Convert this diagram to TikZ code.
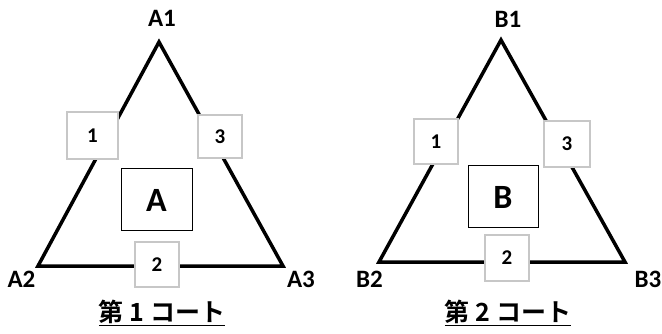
\documentclass[tikz,border=0pt]{standalone}
\usepackage{fontspec}
\setmainfont{Carlito}
\newfontfamily\jpfont{Noto Sans CJK JP}[BoldFont={Noto Sans CJK JP Bold}]
\begin{document}
\begin{tikzpicture}[x=1pt,y=-1pt,
  court/.style={line width=3.5pt,line join=miter},
  sbox/.style={draw=black!22,fill=white,line width=1.2pt,inner sep=0pt,font=\bfseries\fontsize{21}{21}\selectfont},
  bigbox/.style={draw=black,fill=white,line width=1pt,inner sep=0pt,font=\bfseries\fontsize{34}{34}\selectfont},
  vlabel/.style={font=\bfseries\fontsize{25}{25}\selectfont},
  title/.style={font=\jpfont\bfseries\fontsize{25}{25}\selectfont}]
\useasboundingbox (0,0) rectangle (662,334);
% left court
\coordinate (a1) at (159,42);
\coordinate (a2) at (38,266);
\coordinate (a3) at (283,266);
\draw[court] (a1) -- (a2) -- (a3) -- cycle;
\node[sbox,minimum width=51pt,minimum height=47pt] (la1) at (92.5,135.5) {1};
\node[sbox,minimum width=44pt,minimum height=43pt] (la3) at (220,136.5) {3};
\node[sbox,minimum width=44pt,minimum height=45pt] (la2) at (157,264.5) {2};
\node[bigbox,minimum width=71pt,minimum height=62pt] (lA) at (156.5,200) {A};
\node[vlabel] (lt1) at (162,18) {A1};
\node[vlabel] (lt2) at (21.5,279) {A2};
\node[vlabel] (lt3) at (301,279.5) {A3};
\node[title] (lti) at (162,313) {\underline{第 1 コート}};
% right court
\coordinate (b1) at (501,40);
\coordinate (b2) at (379,262);
\coordinate (b3) at (625,262);
\draw[court] (b1) -- (b2) -- (b3) -- cycle;
\node[sbox,minimum width=44pt,minimum height=45pt] (rb1) at (436,141.5) {1};
\node[sbox,minimum width=46pt,minimum height=46pt] (rb3) at (567,144) {3};
\node[sbox,minimum width=44pt,minimum height=46pt] (rb2) at (507,258) {2};
\node[bigbox,minimum width=70pt,minimum height=62pt] (rB) at (503,197) {B};
\node[vlabel] (rt1) at (508,19) {B1};
\node[vlabel] (rt2) at (369.5,279.5) {B2};
\node[vlabel] (rt3) at (648,279) {B3};
\node[title] (rti) at (508,313) {\underline{第 2 コート}};
\end{tikzpicture}
\end{document}
